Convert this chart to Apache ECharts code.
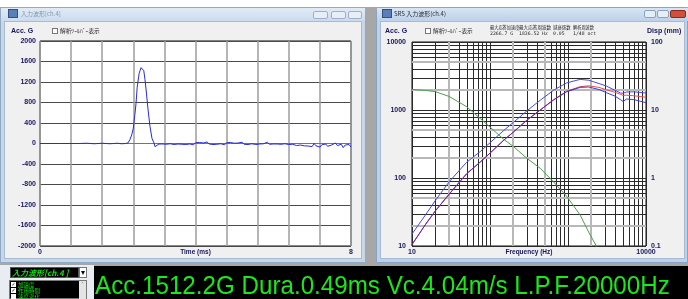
<!DOCTYPE html>
<html>
<head>
<meta charset="utf-8">
<script src="https://cdn.jsdelivr.net/npm/echarts@6/dist/echarts.min.js"></script>
<style>
html, body { margin: 0; padding: 0; }
body { width: 688px; height: 299px; position: relative; overflow: hidden; background: #a7a7a7; }
.b { position: absolute; box-sizing: border-box; }
#chart { position: absolute; left: 0; top: 0; width: 688px; height: 299px; }
</style>
</head>
<body>
<!-- window chrome -->
<div class="b" style="left:0;top:0;width:688px;height:7px;background:#fff"></div>
<div class="b" style="left:0;top:7px;width:366px;height:256px;background:#c6d7ea;border:1px solid #93a9c3;border-radius:4px 4px 0 0"></div>
<div class="b" style="left:1px;top:8px;width:364px;height:13px;background:linear-gradient(#e1ebf6,#cbdbee)"></div>
<div class="b" style="left:8px;top:9px;width:10px;height:9px;background:#5a7fb8;border:1px solid #34507e"></div>
<div class="b" style="left:313px;top:11px;width:15px;height:8px;background:#e6eef7;border:1px solid #9fb0c6;border-radius:2px"></div>
<div class="b" style="left:331px;top:11px;width:15px;height:8px;background:#e6eef7;border:1px solid #9fb0c6;border-radius:2px"></div>
<div class="b" style="left:348px;top:11px;width:14px;height:8px;background:#e6eef7;border:1px solid #9fb0c6;border-radius:2px"></div>
<div class="b" style="left:4px;top:21px;width:358px;height:238px;background:#f0f0f0;border:1px solid #a9bbd0"></div>
<div class="b" style="left:52px;top:28px;width:6px;height:6px;background:#fff;border:1px solid #777"></div>

<div class="b" style="left:376px;top:7px;width:312px;height:256px;background:#bcd1ea;border:1px solid #8aa3c2;border-radius:4px 4px 0 0"></div>
<div class="b" style="left:377px;top:8px;width:311px;height:13px;background:linear-gradient(#d7e5f5,#bcd1ea)"></div>
<div class="b" style="left:382px;top:9px;width:10px;height:9px;background:#5a7fb8;border:1px solid #34507e"></div>
<div class="b" style="left:644px;top:10px;width:12px;height:8px;background:#e6eef7;border:1px solid #8ea2bc;border-radius:2px"></div>
<div class="b" style="left:657px;top:10px;width:12px;height:8px;background:#e6eef7;border:1px solid #8ea2bc;border-radius:2px"></div>
<div class="b" style="left:670px;top:10px;width:16px;height:8px;background:#d0503a;border:1px solid #8a2a1c;border-radius:2px"></div>
<div class="b" style="left:380px;top:21px;width:305px;height:238px;background:#f0f0f0;border:1px solid #a9bbd0"></div>
<div class="b" style="left:425px;top:28px;width:6px;height:6px;background:#fff;border:1px solid #777"></div>

<!-- bottom panel -->
<div class="b" style="left:0;top:265px;width:94px;height:34px;background:#e8edf3"></div>
<div class="b" style="left:10px;top:267px;width:69px;height:11px;background:#000;border:1px solid #555"></div>
<div class="b" style="left:79px;top:267px;width:8px;height:11px;background:#fff;border:1px solid #777"></div>
<div class="b" style="left:9px;top:280px;width:78px;height:19px;background:#000;border:1px solid #777"></div>
<div class="b" style="left:79px;top:281px;width:7px;height:18px;background:#e4e4e4"></div>
<div class="b" style="left:11px;top:282px;width:5px;height:5px;background:#fff"></div>
<div class="b" style="left:11px;top:288px;width:5px;height:5px;background:#fff"></div>
<div class="b" style="left:11px;top:294px;width:5px;height:5px;background:#fff"></div>
<div class="b" style="left:94px;top:266px;width:594px;height:33px;background:#000"></div>

<div id="chart"></div>
<script>
// 入力波形 (time history)
const timeMs = [0, 0.5, 1.0, 1.2, 1.4, 1.6, 1.8, 2.0, 2.1, 2.2,
  2.26, 2.31, 2.36, 2.40, 2.44, 2.47, 2.50, 2.55, 2.60, 2.63,
  2.67, 2.70, 2.73, 2.78, 2.83, 2.88, 2.93, 2.96, 3.01, 3.06,
  3.10, 3.15, 3.20, 3.25, 3.30, 3.35, 3.40, 3.45, 3.50, 3.55,
  3.60, 3.65, 3.70, 3.75, 3.80, 3.85, 3.90, 3.95, 4.00, 4.05,
  4.10, 4.15, 4.20, 4.25, 4.30, 4.35, 4.40, 4.45, 4.50, 4.55,
  4.60, 4.65, 4.70, 4.75, 4.80, 4.85, 4.90, 4.95, 5.00, 5.05,
  5.10, 5.15, 5.20, 5.25, 5.30, 5.35, 5.40, 5.45, 5.50, 5.55,
  5.60, 5.65, 5.70, 5.75, 5.80, 5.85, 5.90, 5.95, 6.00, 6.05,
  6.10, 6.15, 6.20, 6.25, 6.30, 6.35, 6.40, 6.45, 6.50, 6.55,
  6.60, 6.65, 6.70, 6.75, 6.80, 6.85, 6.90, 6.95, 7.00, 7.05,
  7.10, 7.15, 7.20, 7.25, 7.30, 7.35, 7.40, 7.45, 7.50, 7.55,
  7.60, 7.65, 7.70, 7.75, 7.80, 7.85, 7.90, 7.95, 8.00]
const accG = [0, 0, 0, 5, -5, 5, -5, 5, -5, 0,
  10, 70, 170, 300, 560, 780, 1100, 1370, 1480, 1512,
  1420, 1250, 1044, 654, 328, 101, 16, -62, -49, -10,
  15, -10, 10, -15, 20, -5, 15, -20, 10, -10,
  20, -15, 5, -20, 15, -10, 10, -25, 15, -10,
  20, -15, 10, -5, 30, -10, 15, -20, 5, -15,
  20, -5, 10, -25, 15, -10, 20, -15, 5, -20,
  10, -10, 25, -15, 10, -20, 15, -5, 10, -20,
  15, -10, 20, -5, 10, 25, -15, 10, -10, 20,
  -10, 5, -15, 10, -5, 15, -20, 5, -15, 10,
  -40, -15, -30, -20, -45, -10, -50, -20, -60, 0,
  -45, -15, -70, -25, -40, -10, -55, -20, -30, -60,
  10, -40, -70, -15, -80, -30, -55, -20, -70]
const baseMs = [0, 8]
const baseG = [0, 0]

// SRS 入力波形
const freqHz = [10, 15, 20, 30, 50, 75, 100, 150, 200, 300, 440, 650, 960, 1430, 1840, 2500, 3100, 4000, 4700, 5100, 5600, 7000, 10000]
const srsMaxG = [10.5, 21, 33, 58, 115, 172, 232, 360, 475, 715, 1000, 1410, 1880, 2200, 2267, 2150, 1980, 1820, 1700, 1640, 1650, 1620, 1540]
const srsPosG = [15, 29, 47, 88, 170, 245, 330, 500, 660, 980, 1390, 1950, 2500, 2820, 2740, 2450, 2250, 1950, 1780, 1760, 1840, 1850, 1780]
const srsNegG = [10.5, 21, 33, 58, 115, 172, 232, 360, 475, 715, 1000, 1400, 1850, 2150, 2180, 2000, 1800, 1600, 1420, 1330, 1450, 1420, 1280]
const dispMm = [20.1, 19.4, 18.6, 15.8, 11.2, 7.5, 5.6, 3.7, 2.9, 1.93, 1.39, 0.88, 0.54, 0.286, 0.16, 0.085, null, null, null, null, null, null, null]

const grayFreq = [30, 200, 500, 2000]
const grayAcc = [20, 50, 200, 500, 2000, 5000]
const readout = 'Acc.1512.2G Dura.0.49ms Vc.4.04m/s L.P.F.20000Hz'

const myChart = echarts.init(document.getElementById('chart'))

const navy = '#16165e'
const tickFont = { fontSize: 7, fontWeight: 'bold', fontFamily: 'Liberation Sans', color: navy }

function pairs(xs, ys) {
  return xs.map((x, i) => [x, ys[i]])
}

// log grid lines: [freq, acc, vertical?, gray?]
const gridRows = []
;[10, 100, 1000].forEach(d => {
  for (let m = 2; m <= 9; m++) {
    gridRows.push([m * d, 10, 1, grayFreq.indexOf(m * d) >= 0 ? 1 : 0])
    gridRows.push([10, m * d, 0, grayAcc.indexOf(m * d) >= 0 ? 1 : 0])
  }
})
gridRows.sort((a, b) => a[3] - b[3])

function renderGrid(params, api) {
  const cs = params.coordSys
  const p = api.coord([api.value(0), api.value(1)])
  const gray = api.value(3) === 1
  const w = gray ? 2 : 1
  let shape
  if (api.value(2) === 1) {
    const x = gray ? Math.round(p[0]) : Math.round(p[0]) + 0.5
    shape = { x1: x, y1: cs.y, x2: x, y2: cs.y + cs.height }
  } else {
    const y = gray ? Math.round(p[1]) : Math.round(p[1]) + 0.5
    shape = { x1: cs.x, y1: y, x2: cs.x + cs.width, y2: y }
  }
  return { type: 'line', shape: shape, style: { stroke: gray ? '#b8b8b8' : '#2a2a2a', lineWidth: w } }
}

function txt(text, x, y, font, fill, align) {
  return {
    type: 'text', z: 100, silent: true,
    style: { text: text, x: x, y: y, font: font, fill: fill || navy, textAlign: align || 'left', textVerticalAlign: 'middle' }
  }
}
const cjk = '"Noto Sans CJK JP"'
const bold7 = 'bold 7px "Liberation Sans"'
const plain = v => String(v)

const option = {
  animation: false,
  grid: [
    { left: 40, top: 41, width: 311, height: 205, show: true, backgroundColor: '#fff', borderColor: '#111', borderWidth: 1 },
    { left: 412, top: 42, width: 234, height: 204, show: true, backgroundColor: '#fff', borderColor: '#111', borderWidth: 1 }
  ],
  xAxis: [
    {
      gridIndex: 0, type: 'value', min: 0, max: 8, interval: 0.8,
      axisLine: { show: false }, axisTick: { show: false },
      splitLine: { show: true, lineStyle: { color: '#9c9c9c', width: 1.5 } },
      axisLabel: Object.assign({ margin: 3, formatter: v => (v === 0 || Math.abs(v - 8) < 1e-6) ? String(Math.round(v)) : '' }, tickFont)
    },
    {
      gridIndex: 1, type: 'log', logBase: 10, min: 10, max: 10000,
      axisLine: { show: false }, axisTick: { show: false },
      splitLine: { show: true, lineStyle: { color: '#2a2a2a', width: 1 } },
      axisLabel: Object.assign({ margin: 3, formatter: v => (v === 10 || v === 10000) ? String(v) : '' }, tickFont)
    }
  ],
  yAxis: [
    {
      gridIndex: 0, type: 'value', min: -2000, max: 2000, interval: 400,
      axisLine: { show: false }, axisTick: { show: false },
      splitLine: { show: true, lineStyle: { color: '#4a4a4a', width: 1 } },
      axisLabel: Object.assign({ margin: 4, formatter: plain }, tickFont)
    },
    {
      gridIndex: 1, type: 'log', logBase: 10, min: 10, max: 10000, position: 'left',
      axisLine: { show: false }, axisTick: { show: false },
      splitLine: { show: true, lineStyle: { color: '#2a2a2a', width: 1 } },
      axisLabel: Object.assign({ margin: 6, formatter: plain }, tickFont)
    },
    {
      gridIndex: 1, type: 'log', logBase: 10, min: 0.1, max: 100, position: 'right',
      axisLine: { show: false }, axisTick: { show: false },
      splitLine: { show: false },
      axisLabel: Object.assign({ margin: 5, formatter: plain }, tickFont)
    }
  ],
  series: [
    {
      type: 'line', xAxisIndex: 0, yAxisIndex: 0, data: pairs(baseMs, baseG),
      showSymbol: false, silent: true, z: 2,
      lineStyle: { color: '#ff3a3a', width: 1 }
    },
    {
      type: 'line', xAxisIndex: 0, yAxisIndex: 0, data: pairs(timeMs, accG),
      showSymbol: false, silent: true, z: 3,
      lineStyle: { color: '#2a2ad4', width: 1 }
    },
    {
      type: 'custom', xAxisIndex: 1, yAxisIndex: 1, data: gridRows,
      renderItem: renderGrid, silent: true, z: 1, clip: true,
      encode: { x: 0, y: 1 }
    },
    {
      type: 'line', xAxisIndex: 1, yAxisIndex: 2, data: pairs(freqHz, dispMm),
      showSymbol: false, silent: true, z: 3, connectNulls: false,
      lineStyle: { color: '#4e9e4e', width: 1 }
    },
    {
      type: 'line', xAxisIndex: 1, yAxisIndex: 1, data: pairs(freqHz, srsPosG),
      showSymbol: false, silent: true, z: 3,
      lineStyle: { color: '#4a4ae0', width: 1 }
    },
    {
      type: 'line', xAxisIndex: 1, yAxisIndex: 1, data: pairs(freqHz, srsNegG),
      showSymbol: false, silent: true, z: 3,
      lineStyle: { color: '#3c3cd8', width: 1 }
    },
    {
      type: 'line', xAxisIndex: 1, yAxisIndex: 1, data: pairs(freqHz, srsMaxG),
      showSymbol: false, silent: true, z: 4,
      lineStyle: {
        width: 1,
        color: {
          type: 'linear', x: 0, y: 0, x2: 1, y2: 0,
          colorStops: [
            { offset: 0, color: '#8a2486' }, { offset: 0.68, color: '#8a2486' },
            { offset: 0.76, color: '#e8504a' }, { offset: 1, color: '#e8504a' }
          ]
        }
      }
    }
  ],
  graphic: [
    // left window
    txt('入力波形[ch.4]', 21, 14, '6px ' + cjk, '#8596ad'),
    txt('Acc. G', 11, 31, bold7),
    txt('解析ﾂｰﾙﾊﾞｰ表示', 60, 31, '5.7px ' + cjk, '#222'),
    txt('Time (ms)', 195.5, 252, 'bold 6.5px "Liberation Sans"', navy, 'center'),
    // right window
    txt('SRS 入力波形(ch.4)', 394, 14, '6px ' + cjk, '#2a2a2a'),
    txt('Acc. G', 385, 31, bold7),
    txt('解析ﾂｰﾙﾊﾞｰ表示', 433, 31, '5.7px ' + cjk, '#222'),
    txt('最大応答加速度', 490, 27, '4.2px ' + cjk, '#222'),
    txt('2266.7 G', 490, 34, '4.8px "DejaVu Sans Mono"', '#222'),
    txt('最大応答周波数', 519, 27, '4.6px ' + cjk, '#222'),
    txt('1836.52 Hz', 519, 34, '4.8px "DejaVu Sans Mono"', '#222'),
    txt('減衰係数', 553, 27, '4.4px ' + cjk, '#222'),
    txt('0.05', 553, 34, '4.8px "DejaVu Sans Mono"', '#222'),
    txt('解析周波数', 573, 27, '4.2px ' + cjk, '#222'),
    txt('1/48 oct', 573, 34, '4.8px "DejaVu Sans Mono"', '#222'),
    txt('Disp (mm)', 647, 31, bold7),
    txt('Frequency (Hz)', 529, 252, 'bold 6.5px "Liberation Sans"', navy, 'center'),
    // bottom panel
    txt('入力波形[ch.4 ]', 12, 273, 'italic bold 8px ' + cjk, '#10e010'),
    txt('▾', 83, 273, '8px "DejaVu Sans"', '#000', 'center'),
    txt('ˆ', 82.5, 285, '6px "DejaVu Sans"', '#555', 'center'),
    txt('✓', 13.5, 284.5, 'bold 5px "DejaVu Sans"', '#000', 'center'),
    txt('✓', 13.5, 290.5, 'bold 5px "DejaVu Sans"', '#000', 'center'),
    txt('加速度', 18, 284.5, '5.5px ' + cjk, '#10e010'),
    txt('作用時間', 18, 290.5, '5.5px ' + cjk, '#10e010'),
    txt('速度変化', 18, 296.5, '5.5px ' + cjk, '#10e010'),
    {
      type: 'text', z: 100, silent: true, x: 95, y: 287, scaleX: 0.93,
      style: { text: readout, x: 0, y: 0, font: '26px "Liberation Sans"', fill: '#1be81b', textAlign: 'left', textVerticalAlign: 'middle' }
    }
  ]
}

myChart.setOption(option)
</script>
</body>
</html>
